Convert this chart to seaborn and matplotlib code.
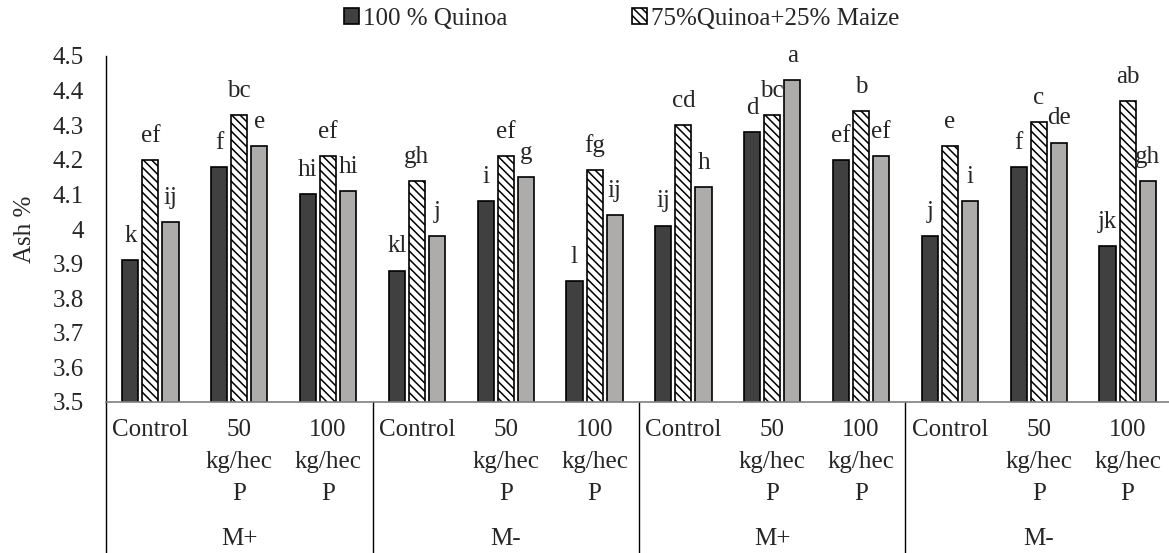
import pandas as pd
import seaborn as sns
import matplotlib.pyplot as plt

# data
treatments = ["Control", "50\nkg/hec\nP", "100\nkg/hec\nP"] * 4
groups = ["M+", "M-", "M+", "M-"]
series = ["100 % Quinoa", "75%Quinoa+25% Maize", "50%Quinoa+50% Maize"]

quinoa_100 = [3.91, 4.18, 4.10, 3.88, 4.08, 3.85, 4.01, 4.28, 4.20, 3.98, 4.18, 3.95]
quinoa_75 = [4.20, 4.33, 4.21, 4.14, 4.21, 4.17, 4.30, 4.33, 4.34, 4.24, 4.31, 4.37]
quinoa_50 = [4.02, 4.24, 4.11, 3.98, 4.15, 4.04, 4.12, 4.43, 4.21, 4.08, 4.25, 4.14]

letters_100 = ["k", "f", "hi", "kl", "i", "l", "ij", "d", "ef", "j", "f", "jk"]
letters_75 = ["ef", "bc", "ef", "gh", "ef", "fg", "cd", "bc", "b", "e", "c", "ab"]
letters_50 = ["ij", "e", "hi", "j", "g", "ij", "h", "a", "ef", "i", "de", "gh"]

rows = []
for vals, name in zip([quinoa_100, quinoa_75, quinoa_50], series):
    for i, v in enumerate(vals):
        rows.append({"pos": i, "series": name, "ash": v})
df = pd.DataFrame(rows)

sns.set_style("white")
plt.rcParams["font.family"] = ["Liberation Serif", "DejaVu Serif"]
plt.rcParams["hatch.linewidth"] = 1.1

FS = 18

fig = plt.figure(figsize=(11.69, 5.53), dpi=100)
ax = fig.add_axes([106 / 1169, 1 - 402 / 553, 1066 / 1169, 346 / 553])

colors = ["#404040", "white", "#AEAAAA"]
sns.barplot(data=df, x="pos", y="ash", hue="series", hue_order=series,
            palette=colors, width=0.68, gap=0.2, edgecolor="black",
            linewidth=1.2, ax=ax, legend=False)

for bar in ax.containers[1]:
    bar.set_hatch("\\\\\\\\")

for cont, labs in zip(ax.containers, [letters_100, letters_75, letters_50]):
    for bar, lab in zip(cont, labs):
        ax.annotate(lab, (bar.get_x() + bar.get_width() / 2, bar.get_height()),
                    xytext=(0, 13), textcoords="offset points",
                    ha="center", va="baseline", fontsize=FS)

ax.set_ylim(3.5, 4.5)
ax.set_xlim(-0.5, 11.5)
ax.set_yticks([3.5 + 0.1 * i for i in range(11)])
ax.set_yticklabels(["3.5", "3.6", "3.7", "3.8", "3.9", "4", "4.1", "4.2",
                    "4.3", "4.4", "4.5"])
ax.set_xticks(range(12))
ax.set_xticklabels(treatments, linespacing=1.6)
ax.tick_params(axis="y", length=0, pad=16, labelsize=FS)
ax.tick_params(axis="x", length=0, pad=12, labelsize=FS)
ax.set_xlabel("")
ax.set_ylabel("Ash %", fontsize=FS, labelpad=12)

for s in ["top", "right"]:
    ax.spines[s].set_visible(False)
ax.spines["left"].set_color("black")
ax.spines["left"].set_linewidth(1)
ax.spines["bottom"].set_color("#7f7f7f")
ax.spines["bottom"].set_linewidth(1.2)

trans = ax.get_xaxis_transform()
for xs in [-0.5, 2.5, 5.5, 8.5]:
    ax.plot([xs, xs], [0, -0.5], color="black", lw=1, transform=trans, clip_on=False)
for k, g in enumerate(groups):
    ax.text(3 * k + 1, -0.395, g, transform=trans, ha="center", va="center", fontsize=FS)

handles = [ax.containers[0][0], ax.containers[1][0]]
fig.legend(handles, series[:2], loc="center", bbox_to_anchor=(0.532, 0.966),
           ncol=2, frameon=False, fontsize=FS, handlelength=0.6, handleheight=0.6,
           handletextpad=0.15, columnspacing=5.0)

fig.savefig("out.png", dpi=100)
